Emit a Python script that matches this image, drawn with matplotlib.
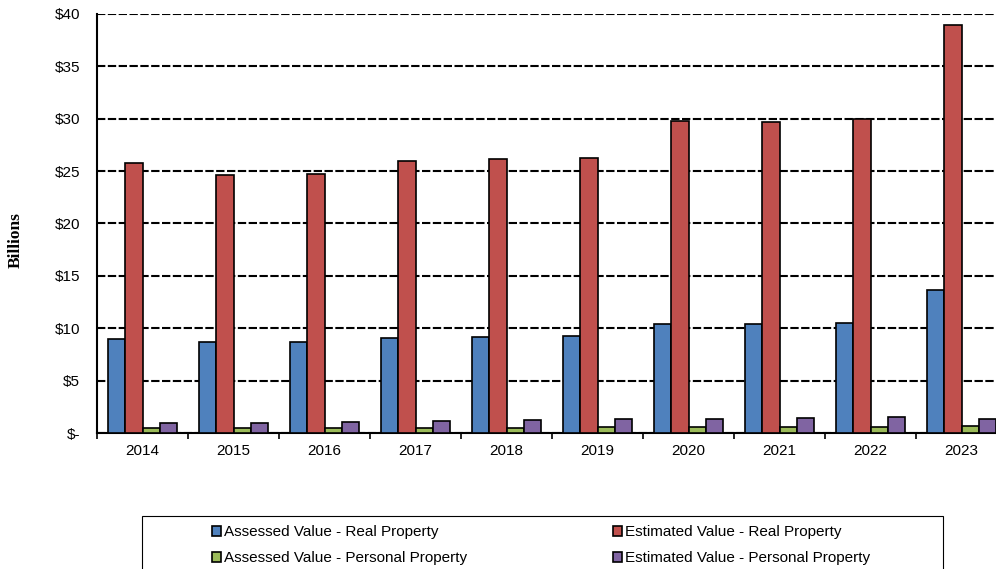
import matplotlib
matplotlib.use("Agg")
import matplotlib.pyplot as plt
import numpy as np
from matplotlib.patches import Rectangle

plt.rcParams['font.family'] = ['Liberation Sans', 'DejaVu Sans']

years = ["2014", "2015", "2016", "2017", "2018", "2019", "2020", "2021", "2022", "2023"]
assessed_real = [9.0, 8.7, 8.7, 9.1, 9.2, 9.3, 10.4, 10.4, 10.5, 13.65]
estimated_real = [25.8, 24.6, 24.7, 26.0, 26.2, 26.3, 29.8, 29.7, 30.0, 38.95]
assessed_pers = [0.45, 0.45, 0.47, 0.47, 0.5, 0.54, 0.54, 0.57, 0.6, 0.67]
estimated_pers = [0.98, 0.98, 1.02, 1.15, 1.24, 1.3, 1.3, 1.4, 1.5, 1.3]

labels = ["Assessed Value - Real Property", "Estimated Value - Real Property",
          "Assessed Value - Personal Property", "Estimated Value - Personal Property"]
colors = ["#4F81BD", "#C0504D", "#9BBB59", "#8064A2"]
series = [assessed_real, estimated_real, assessed_pers, estimated_pers]

fig = plt.figure(figsize=(9.96, 5.69), dpi=100)
ax = fig.add_axes([97/996, 136/569, 910/996, 419/569])

x = np.arange(len(years))
bw = 0.187
bars = []
for i in range(4):
	b = ax.bar(x + (i - 1.5) * bw, series[i], bw, color=colors[i], edgecolor="black", linewidth=1.2, zorder=3)
	bars.append(b)

ax.set_ylim(0, 40)
ax.set_xlim(-0.5, len(years) - 0.5)
ax.set_yticks(np.arange(0, 41, 5))
ax.set_yticklabels(["$-"] + ["$%d" % v for v in range(5, 41, 5)], fontsize=11)
ax.set_xticks(x)
ax.set_xticklabels(years, fontsize=11)
ax.set_xticks(np.arange(-0.5, len(years), 1), minor=True)
ax.tick_params(axis="x", which="major", length=0, pad=8)
ax.tick_params(axis="x", which="minor", length=4, width=1.2, direction="out")
ax.tick_params(axis="y", length=0, pad=12)

ax.grid(axis="y", color="black", linestyle=(0, (4, 1.2)), linewidth=1.5, zorder=0)
ax.spines["top"].set_visible(False)
ax.spines["right"].set_visible(False)
ax.spines["left"].set_linewidth(1.5)
ax.spines["bottom"].set_linewidth(1.5)

fig.text(16/996, 1 - 240/569, "Billions", rotation=90, va="center", ha="center",
	fontsize=12.5, fontweight="bold", family=["Liberation Serif", "DejaVu Serif"])

# legend box
fig.patches.append(Rectangle((142/996, -0.01), (943 - 142)/996, 1 - 516/569 + 0.01,
	transform=fig.transFigure, facecolor="white", edgecolor="black", linewidth=0.8, figure=fig))

# legend fills column by column: reorder so rows read left to right
order = [0, 2, 1, 3]
fig.legend([bars[i] for i in order], [labels[i] for i in order], ncol=2, loc="upper left",
	bbox_to_anchor=(200/996, 1 - 513/569),
	frameon=False, fontsize=11, handlelength=0.6, handleheight=0.6, handletextpad=0.2,
	columnspacing=9.5, labelspacing=0.8, borderpad=0.3)

fig.savefig("out.png", dpi=100)
